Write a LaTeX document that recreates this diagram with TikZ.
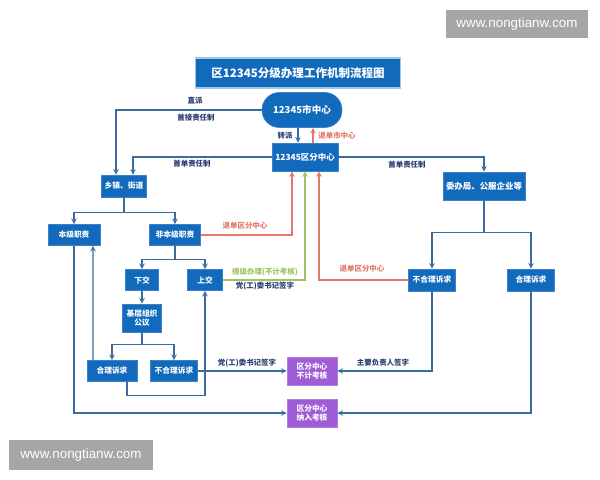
\documentclass[tikz,border=0pt]{standalone}
\usepackage{fontspec}
\setmainfont{Noto Sans CJK SC}
\newfontfamily\wmfont{Liberation Sans}
\definecolor{boxblue}{RGB}{18,106,188}
\definecolor{boxedge}{RGB}{60,130,200}
\definecolor{titleedge}{RGB}{160,200,235}
\definecolor{linkblue}{RGB}{58,108,160}
\definecolor{backred}{RGB}{226,120,105}
\definecolor{upgreen}{RGB}{156,196,96}
\definecolor{boxpurple}{RGB}{158,92,214}
\definecolor{lblblue}{RGB}{40,62,110}
\definecolor{wmgray}{RGB}{166,166,166}
\tikzset{
  bluebox/.style={rectangle, fill=boxblue, draw=boxedge, line width=0.4pt, text=white,
    font=\bfseries\fontsize{5.5}{6.8}\selectfont, align=center, inner sep=1pt},
  purplebox/.style={bluebox, fill=boxpurple, draw=boxpurple!80!white},
  link/.style={draw=linkblue, line width=0.8pt, ->},
  backlink/.style={link, draw=backred},
  uplink/.style={link, draw=upgreen},
  lbl/.style={font=\bfseries\fontsize{5.3}{6}\selectfont, text=lblblue, inner sep=1pt},
  watermark/.style={fill=wmgray, text=white, font=\wmfont\fontsize{9.5}{11}\selectfont}
}

\begin{document}
\begin{tikzpicture}[x=0.025cm, y=-0.025cm, >=stealth]
\useasboundingbox (0,0) rectangle (600,480);

\node[watermark, minimum width=3.53cm, minimum height=0.7cm] (wmtop) at (517,24) {www.nongtianw.com};
\node[watermark, minimum width=3.58cm, minimum height=0.75cm] (wmbottom) at (81,455) {www.nongtianw.com};

\node[bluebox, draw=titleedge, line width=1pt, minimum width=5.13cm, minimum height=0.75cm,
  font=\bfseries\fontsize{8.2}{10}\selectfont] (title) at (298,73) {区12345分级办理工作机制流程图};

\node[bluebox, rounded corners=0.43cm, minimum width=2cm, minimum height=0.875cm,
  font=\bfseries\fontsize{6.8}{8}\selectfont] (shi) at (302,110) {12345市中心};
\node[bluebox, minimum width=1.65cm, minimum height=0.7cm, font=\bfseries\fontsize{6}{7}\selectfont] (qu) at (305,157) {12345区分中心};
\node[bluebox, minimum width=1.13cm, minimum height=0.55cm] (xiang) at (124,186) {乡镇、街道};
\node[bluebox, minimum width=2.05cm, minimum height=0.7cm, font=\bfseries\fontsize{6}{7}\selectfont] (wei) at (484,186) {委办局、公服企业等};

\node[bluebox, minimum width=1.3cm, minimum height=0.53cm] (ben) at (74,235) {本级职责};
\node[bluebox, minimum width=1.28cm, minimum height=0.53cm] (feiben) at (175,235) {非本级职责};
\node[bluebox, minimum width=0.83cm, minimum height=0.53cm] (xiajiao) at (142,280) {下交};
\node[bluebox, minimum width=0.88cm, minimum height=0.53cm] (shangjiao) at (205,280) {上交};
\node[bluebox, minimum width=1.18cm, minimum height=0.55cm] (buheR) at (432,280) {不合理诉求};
\node[bluebox, minimum width=1.18cm, minimum height=0.55cm] (heR) at (531,280) {合理诉求};
\node[bluebox, minimum width=0.98cm, minimum height=0.7cm] (jiceng) at (142,318) {基层组织\\公议};
\node[bluebox, minimum width=1.25cm, minimum height=0.53cm] (heL) at (112,371) {合理诉求};
\node[bluebox, minimum width=1.18cm, minimum height=0.53cm] (buheL) at (174,371) {不合理诉求};
\node[purplebox, minimum width=1.25cm, minimum height=0.7cm] (bujikaohe) at (312,371) {区分中心\\不计考核};
\node[purplebox, minimum width=1.25cm, minimum height=0.7cm] (najin) at (312,413) {区分中心\\纳入考核};

\draw[link] (shi.west) -| ([xshift=-0.2cm]xiang.north);
\draw[link] ([xshift=-0.1cm]shi.south) -- ([xshift=-0.1cm]shi.south |- qu.north);
\draw[backlink] ([xshift=0.2cm]qu.north) -- ([xshift=0.2cm]qu.north |- shi.south);
\draw[link] (qu.west) -| ([xshift=0.225cm]xiang.north);
\draw[link] (qu.east) -| (wei.north);

\draw[link] (xiang.south) -- ++(0,15) -| (ben.north);
\draw[link] (xiang.south) -- ++(0,15) -| (feiben.north);
\draw[backlink] (feiben.east) -| ([xshift=-0.325cm]qu.south);
\draw[link] (feiben.south) -- ++(0,14) -| (xiajiao.north);
\draw[link] (feiben.south) -- ++(0,14) -| (shangjiao.north);
\draw[uplink] (shangjiao.east) -| (qu.south);
\draw[backlink] (buheR.west) -| ([xshift=0.35cm]qu.south);
\draw[link] (wei.south) -- ++(0,32) -| (buheR.north);
\draw[link] (wei.south) -- ++(0,32) -| (heR.north);

\draw[link] (xiajiao.south) -- (jiceng.north);
\draw[link] (jiceng.south) -- ++(0,12) -| (heL.north);
\draw[link] (jiceng.south) -- ++(0,12) -| (buheL.north);
\draw[link] ([xshift=-0.475cm]heL.north) -- ([xshift=0.475cm]ben.south);
\draw[link] (ben.south) |- (najin.west);
\draw[link] ([xshift=0.375cm]heL.south) -- ++(0,14) -| (shangjiao.south);
\draw[link] (buheL.east) -- (bujikaohe.west);
\draw[link] (buheR.south) |- (bujikaohe.east);
\draw[link] (heR.south) |- (najin.east);

\node[lbl] (zhipai) at (195,101) {直派};
\node[lbl] (shoujie) at (196,118) {首接责任制};
\node[lbl] (zhuanpai) at (285,136) {转派};
\node[lbl, text=backred] (tuishi) at (337,136) {退单市中心};
\node[lbl] (shoudanL) at (192,164) {首单责任制};
\node[lbl] (shoudanR) at (407,165) {首单责任制};
\node[lbl, text=backred] (tuiquL) at (245,226) {退单区分中心};
\node[lbl, text=upgreen] (tiji) at (265,272) {提级办理(不计考核)};
\node[lbl] (qianziA) at (265,286) {党(工)委书记签字};
\node[lbl, text=backred] (tuiquR) at (362,269) {退单区分中心};
\node[lbl] (qianziB) at (247,363) {党(工)委书记签字};
\node[lbl] (fuzeren) at (383,363) {主要负责人签字};
\end{tikzpicture}
\end{document}
